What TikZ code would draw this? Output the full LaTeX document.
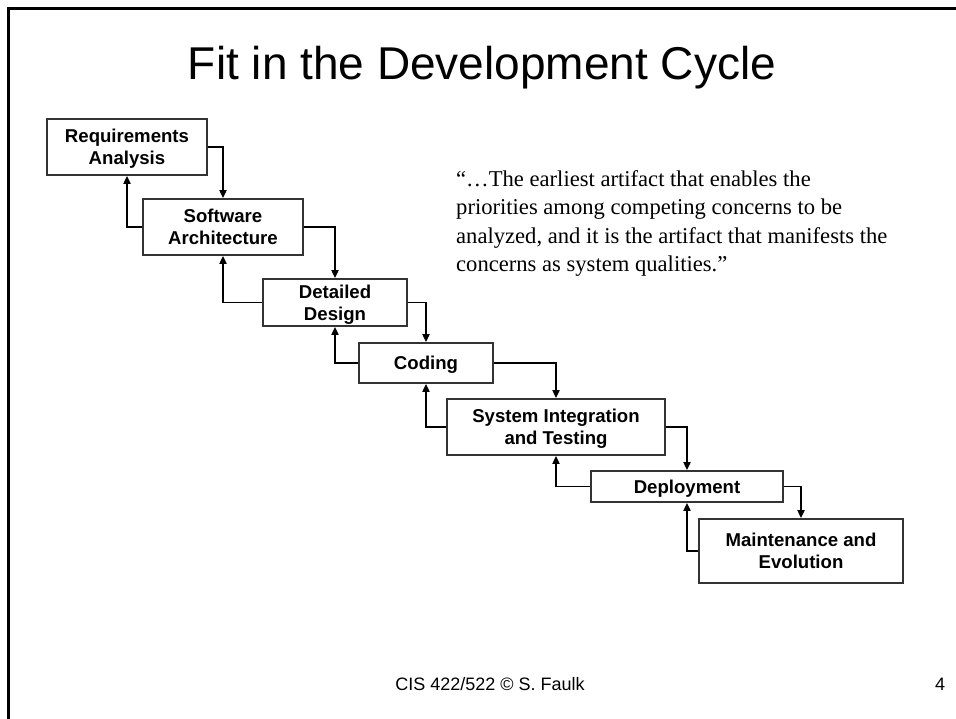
\documentclass[tikz,border=0pt]{standalone}
\usepackage{fontspec}
\setmainfont{Liberation Serif}
\setsansfont{Liberation Sans}
\usetikzlibrary{positioning, arrows.meta}

\tikzset{
  phase/.style={draw=black!80, line width=1.8pt, inner sep=0pt, align=center, text depth=0pt,
    font=\sffamily\bfseries\fontsize{18.6}{22.3}\selectfont},
  flow/.style={-{Triangle[length=8pt,width=7pt]}, line width=1.9pt}
}

\begin{document}
\begin{tikzpicture}[x=1pt,y=-1pt]
\useasboundingbox (0,0) rectangle (956,719);
% slide frame
\draw[line width=2.8pt] (8.3,719) -- (8.3,8.3) -- (956,8.3);

% title
\node[anchor=base, font=\sffamily\fontsize{46}{52}\selectfont] (title) at (482,80) {Fit in the Development Cycle};

% phases of the cycle
\node[phase, minimum width=160pt, minimum height=56pt] (req) at (127,147) {Requirements\\Analysis};
\node[phase, minimum width=160pt, minimum height=56pt] (arch) at (223,227) {Software\\Architecture};
\node[phase, minimum width=144pt, minimum height=47pt] (design) at (335,302.5) {Detailed\\Design};
\node[phase, minimum width=134pt, minimum height=40pt] (coding) at (426,363) {Coding};
\node[phase, minimum width=218pt, minimum height=56pt] (integ) at (556,427) {System Integration\\and Testing};
\node[phase, minimum width=192pt, minimum height=31pt] (deploy) at (687,486.5) {Deployment};
\node[phase, minimum width=204pt, minimum height=64pt] (maint) at (801,551) {Maintenance and\\Evolution};

% forward and feedback arrows
\foreach \a/\b in {req/arch, arch/design, design/coding, coding/integ, integ/deploy, deploy/maint} {
  \draw[flow] (\a.east) -| (\b.north);
  \draw[flow] (\b.west) -| (\a.south);
}

% quote (base = last line)
\node[anchor=base west, align=left, inner sep=0pt, font=\fontsize{22.6}{28.5}\selectfont] (quote) at (456,272)
  {“…The earliest artifact that enables the\\priorities among competing concerns to be\\analyzed, and it is the artifact that manifests the\\concerns as system qualities.”};

% footer
\node[anchor=base, font=\sffamily\fontsize{18}{20}\selectfont] (footer) at (490,690) {CIS 422/522 © S. Faulk};
\node[anchor=base, font=\sffamily\fontsize{18}{20}\selectfont] (pagenum) at (940,690) {4};
\end{tikzpicture}
\end{document}
